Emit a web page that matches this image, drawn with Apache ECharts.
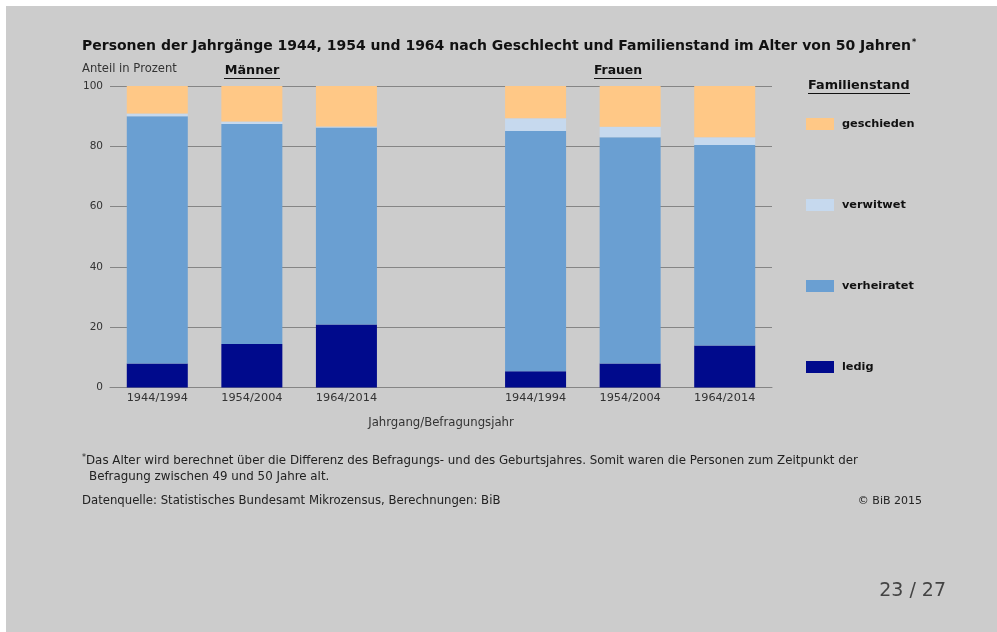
<!DOCTYPE html>
<html>
<head>
<meta charset="utf-8">
<script src="https://cdn.jsdelivr.net/npm/echarts@6/dist/echarts.min.js"></script>
<style>
html,body{margin:0;padding:0;background:#ffffff;}
#c{width:997px;height:632px;}
</style>
</head>
<body>
<div id="c"></div>
<script>
var categories = ['1944/1994', '1954/2004', '1964/2014', '', '1944/1994', '1954/2004', '1964/2014'];
var ledig       = [8.0, 14.4, 20.9, null, 5.4, 8.0, 13.9];
var verheiratet = [82.0, 73.0, 65.3, null, 79.7, 75.0, 66.5];
var verwitwet   = [0.9, 0.8, 0.4, null, 4.2, 3.5, 2.6];
var geschieden  = [9.1, 11.8, 13.4, null, 10.7, 13.5, 17.0];
var yTicks = [0, 20, 40, 60, 80, 100];

var FONT = 'DejaVu Sans';
var chart = echarts.init(document.getElementById('c'), null, {renderer: 'canvas'});

function mk(name, data, color) {
  return {
    name: name, type: 'bar', stack: 'a', data: data, barWidth: 61,
    itemStyle: {color: color}, emphasis: {disabled: true}, animation: false
  };
}

var option = {
  backgroundColor: '#ffffff',
  animation: false,
  grid: {left: 110, right: 225, top: 86, bottom: 244.5},
  xAxis: {
    type: 'category', data: categories,
    axisLine: {show: true, lineStyle: {color: '#858585', width: 1}},
    axisTick: {show: false},
    axisLabel: {color: '#333', fontFamily: FONT, fontSize: 11.3, margin: 5, interval: 0},
    name: 'Jahrgang/Befragungsjahr', nameLocation: 'middle', nameGap: 29,
    nameTextStyle: {color: '#333', fontFamily: FONT, fontSize: 11.7}
  },
  yAxis: {
    type: 'value', min: 0, max: 100, interval: 20,
    axisLine: {show: false}, axisTick: {show: false},
    axisLabel: {color: '#333', fontFamily: FONT, fontSize: 10.5, margin: 7,
      formatter: function (v) { return yTicks.indexOf(v) >= 0 ? String(v) : ''; }},
    splitLine: {lineStyle: {color: '#858585', width: 1}}
  },
  legend: {
    orient: 'vertical', left: 806, top: 118, padding: 0,
    itemWidth: 28, itemHeight: 12, itemGap: 69, icon: 'rect',
    data: ['geschieden', 'verwitwet', 'verheiratet', 'ledig'],
    textStyle: {color: '#111', fontFamily: FONT, fontSize: 11.3, fontWeight: 'bold', padding: [0, 0, 0, 3]},
    selectedMode: false
  },
  series: [
    mk('ledig', ledig, '#000a8c'),
    mk('verheiratet', verheiratet, '#6a9fd2'),
    mk('verwitwet', verwitwet, '#c6d9ee'),
    mk('geschieden', geschieden, '#ffc886')
  ],
  graphic: [
    {type: 'rect', silent: true, z: -10, shape: {x: 6, y: 6, width: 991, height: 626}, style: {fill: '#cccccc'}},
    {type: 'text', x: 82, y: 46, silent: true,
      style: {text: '{t|Personen der Jahrgänge 1944, 1954 und 1964 nach Geschlecht und Familienstand im Alter von 50 Jahren}{s|*}',
        verticalAlign: 'middle',
        rich: {t: {fontFamily: FONT, fontSize: 14, fontWeight: 'bold', fill: '#111'},
               s: {fontFamily: FONT, fontSize: 8, fontWeight: 'bold', fill: '#111', verticalAlign: 'top', padding: [0,0,7,1]}}}},
    {type: 'text', x: 82, y: 69, silent: true,
      style: {text: 'Anteil in Prozent', fontFamily: FONT, fontSize: 11.6, fill: '#333', verticalAlign: 'middle'}},
    {type: 'text', x: 252, y: 71, silent: true,
      style: {text: 'Männer', fontFamily: FONT, fontSize: 12.8, fontWeight: 'bold', fill: '#111', align: 'center', verticalAlign: 'middle'}},
    {type: 'line', silent: true, shape: {x1: 224, y1: 78.5, x2: 280, y2: 78.5}, style: {stroke: '#111', lineWidth: 1}},
    {type: 'text', x: 618, y: 71, silent: true,
      style: {text: 'Frauen', fontFamily: FONT, fontSize: 12.4, fontWeight: 'bold', fill: '#111', align: 'center', verticalAlign: 'middle'}},
    {type: 'line', silent: true, shape: {x1: 594, y1: 78.5, x2: 642, y2: 78.5}, style: {stroke: '#111', lineWidth: 1}},
    {type: 'text', x: 808, y: 86, silent: true,
      style: {text: 'Familienstand', fontFamily: FONT, fontSize: 12.8, fontWeight: 'bold', fill: '#111', align: 'left', verticalAlign: 'middle'}},
    {type: 'line', silent: true, shape: {x1: 808, y1: 93.5, x2: 910, y2: 93.5}, style: {stroke: '#111', lineWidth: 1}},
    {type: 'text', x: 82, y: 461, silent: true,
      style: {text: '{s|*}{t|Das Alter wird berechnet über die Differenz des Befragungs- und des Geburtsjahres. Somit waren die Personen zum Zeitpunkt der}',
        verticalAlign: 'middle',
        rich: {t: {fontFamily: FONT, fontSize: 11.85, fill: '#222'},
               s: {fontFamily: FONT, fontSize: 8, fill: '#222', verticalAlign: 'top', padding: [0,0,6,0]}}}},
    {type: 'text', x: 89, y: 477, silent: true,
      style: {text: 'Befragung zwischen 49 und 50 Jahre alt.', fontFamily: FONT, fontSize: 11.85, fill: '#222', verticalAlign: 'middle'}},
    {type: 'text', x: 82, y: 501, silent: true,
      style: {text: 'Datenquelle: Statistisches Bundesamt Mikrozensus, Berechnungen: BiB', fontFamily: FONT, fontSize: 11.7, fill: '#222', verticalAlign: 'middle'}},
    {type: 'text', x: 922, y: 501, silent: true,
      style: {text: '© BiB 2015', fontFamily: FONT, fontSize: 11, fill: '#222', align: 'right', verticalAlign: 'middle'}},
    {type: 'text', x: 946, y: 591, silent: true,
      style: {text: '23 / 27', fontFamily: FONT, fontSize: 19, fill: '#444', align: 'right', verticalAlign: 'middle'}}
  ]
};
chart.setOption(option);
</script>
</body>
</html>
